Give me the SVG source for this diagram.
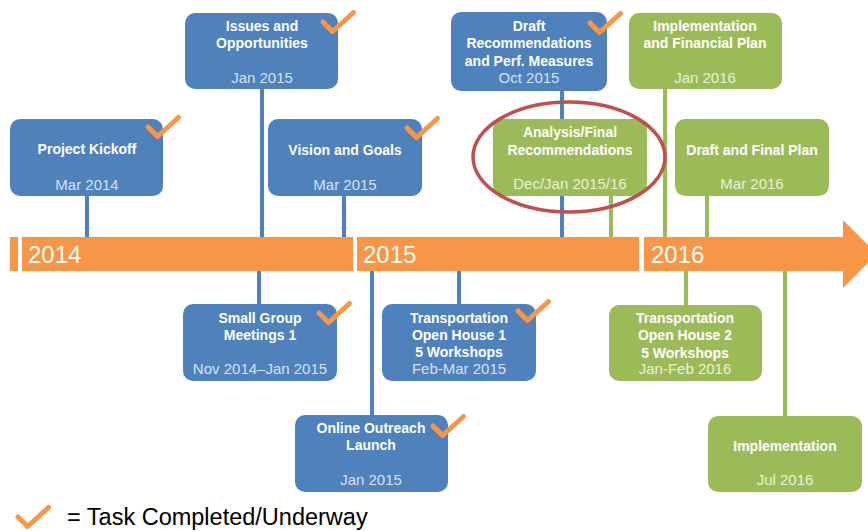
<svg xmlns="http://www.w3.org/2000/svg" width="868" height="531" viewBox="0 0 868 531">
<style>
.conn-b{stroke:#4F81BD;stroke-width:4;fill:none}
.conn-g{stroke:#9BBB59;stroke-width:4;fill:none}
.bb{fill:#4F81BD}
.bg{fill:#9BBB59}
.t{font-family:"Liberation Sans",Arial,sans-serif;font-weight:bold;font-size:14px;fill:#FFFFFF;text-anchor:middle}
.db{font-family:"Liberation Sans",Arial,sans-serif;font-size:15px;fill:#D5E0F0;text-anchor:middle}
.dg{font-family:"Liberation Sans",Arial,sans-serif;font-size:15px;fill:#E8F0D8;text-anchor:middle}
.yr{font-family:"Liberation Sans",Arial,sans-serif;font-size:24px;fill:#FFFFFF}
.bar{fill:#F79646}
.chk{stroke:#F79646;stroke-width:5;fill:none;stroke-linecap:round;stroke-linejoin:round}
</style>
<defs>
<path id="check" d="M0,0 l9.5,9.5 l21,-19"/>
</defs>
<rect width="868" height="531" fill="#FFFFFF"/>

<g id="connectors">
<line class="conn-b" x1="87" y1="196" x2="87" y2="237"/>
<line class="conn-b" x1="262" y1="89" x2="262" y2="237"/>
<line class="conn-b" x1="344" y1="196" x2="344" y2="237"/>
<line class="conn-b" x1="562" y1="91" x2="562" y2="237"/>
<line class="conn-g" x1="611" y1="196" x2="611" y2="237"/>
<line class="conn-g" x1="665" y1="89" x2="665" y2="237"/>
<line class="conn-g" x1="707" y1="196" x2="707" y2="237"/>
<line class="conn-b" x1="259" y1="271" x2="259" y2="304"/>
<line class="conn-b" x1="372" y1="271" x2="372" y2="415"/>
<line class="conn-b" x1="459" y1="271" x2="459" y2="304"/>
<line class="conn-g" x1="686" y1="271" x2="686" y2="305"/>
<line class="conn-g" x1="785" y1="271" x2="785" y2="416"/>
</g>

<g id="timeline">
<rect class="bar" x="10" y="237" width="8" height="34"/>
<rect class="bar" x="22" y="237" width="331" height="34"/>
<rect class="bar" x="357" y="237" width="282" height="34"/>
<polygon class="bar" points="644,237 843,237 843,220 877,254 843,288 843,271 644,271"/>
<text class="yr" x="28" y="263">2014</text>
<text class="yr" x="363" y="263">2015</text>
<text class="yr" x="651" y="263">2016</text>
</g>

<g id="project-kickoff">
<rect class="bb" x="10" y="119" width="153" height="77" rx="10"/>
<text class="t" x="87" y="154">Project Kickoff</text>
<text class="db" x="87" y="190">Mar 2014</text>
<use href="#check" class="chk" x="148" y="127"/>
</g>

<g id="issues-opportunities">
<rect class="bb" x="185" y="13" width="153" height="76" rx="10"/>
<text class="t" x="262" y="31">Issues and</text>
<text class="t" x="262" y="48">Opportunities</text>
<text class="db" x="262" y="83">Jan 2015</text>
<use href="#check" class="chk" x="323" y="22"/>
</g>

<g id="vision-goals">
<rect class="bb" x="268" y="119" width="154" height="77" rx="10"/>
<text class="t" x="345" y="155">Vision and Goals</text>
<text class="db" x="345" y="190">Mar 2015</text>
<use href="#check" class="chk" x="407" y="128"/>
</g>

<g id="draft-recommendations">
<rect class="bb" x="451" y="12" width="156" height="79" rx="10"/>
<text class="t" x="529" y="31">Draft</text>
<text class="t" x="529" y="48">Recommendations</text>
<text class="t" x="529" y="66">and Perf. Measures</text>
<text class="db" x="529" y="83">Oct 2015</text>
<use href="#check" class="chk" x="590" y="23"/>
</g>

<g id="analysis-final">
<rect class="bg" x="493" y="119" width="154" height="77" rx="10"/>
<text class="t" x="570" y="137">Analysis/Final</text>
<text class="t" x="570" y="155">Recommendations</text>
<text class="dg" x="570" y="189">Dec/Jan 2015/16</text>
</g>

<g id="highlight">
<ellipse cx="569" cy="157" rx="96" ry="55" fill="none" stroke="#C0504D" stroke-width="3.5"/>
</g>

<g id="implementation-financial">
<rect class="bg" x="629" y="13" width="153" height="76" rx="10"/>
<text class="t" x="705" y="31">Implementation</text>
<text class="t" x="705" y="48">and Financial Plan</text>
<text class="dg" x="705" y="83">Jan 2016</text>
</g>

<g id="draft-final-plan">
<rect class="bg" x="675" y="119" width="154" height="77" rx="10"/>
<text class="t" x="752" y="155">Draft and Final Plan</text>
<text class="dg" x="752" y="189">Mar 2016</text>
</g>

<g id="small-group">
<rect class="bb" x="183" y="304" width="154" height="77" rx="10"/>
<text class="t" x="260" y="323">Small Group</text>
<text class="t" x="260" y="340">Meetings 1</text>
<text class="db" x="260" y="374">Nov 2014–Jan 2015</text>
<use href="#check" class="chk" x="319" y="313"/>
</g>

<g id="open-house-1">
<rect class="bb" x="382" y="304" width="154" height="77" rx="10"/>
<text class="t" x="459" y="323">Transportation</text>
<text class="t" x="459" y="340">Open House 1</text>
<text class="t" x="459" y="357">5 Workshops</text>
<text class="db" x="459" y="374">Feb-Mar 2015</text>
<use href="#check" class="chk" x="518" y="311"/>
</g>

<g id="online-outreach">
<rect class="bb" x="295" y="415" width="153" height="77" rx="10"/>
<text class="t" x="371" y="433">Online Outreach</text>
<text class="t" x="371" y="450">Launch</text>
<text class="db" x="371" y="485">Jan 2015</text>
<use href="#check" class="chk" x="433" y="426"/>
</g>

<g id="open-house-2">
<rect class="bg" x="609" y="305" width="153" height="76" rx="10"/>
<text class="t" x="685" y="323">Transportation</text>
<text class="t" x="685" y="340">Open House 2</text>
<text class="t" x="685" y="358">5 Workshops</text>
<text class="dg" x="685" y="374">Jan-Feb 2016</text>
</g>

<g id="implementation">
<rect class="bg" x="708" y="416" width="154" height="76" rx="10"/>
<text class="t" x="785" y="451">Implementation</text>
<text class="dg" x="785" y="485">Jul 2016</text>
</g>

<g id="legend">
<use href="#check" class="chk" x="18" y="517"/>
<text x="67" y="525" font-family="'Liberation Sans',Arial,sans-serif" font-size="23.5" fill="#000000">= Task Completed/Underway</text>
</g>
</svg>
